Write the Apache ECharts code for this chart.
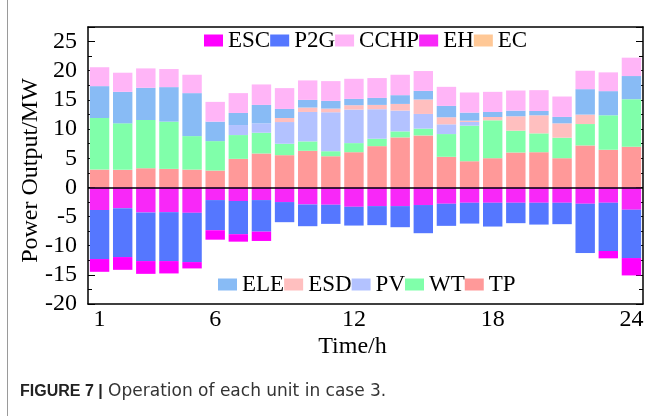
<!DOCTYPE html>
<html>
<head>
<meta charset="utf-8">
<title>Operation of each unit in case 3</title>
<script src="https://cdn.jsdelivr.net/npm/echarts@6/dist/echarts.min.js"></script>
<style>
  html, body { margin: 0; padding: 0; background: #fff; }
  #main { width: 651px; height: 416px; }
</style>
</head>
<body>
<div id="main"></div>
<script>
// hours on the x axis
var hours = ['1', '2', '3', '4', '5', '6', '7', '8', '9', '10', '11', '12',
             '13', '14', '15', '16', '17', '18', '19', '20', '21', '22', '23', '24'];
var tickHours = [1, 3, 6, 9, 12, 15, 18, 21, 24];
var labelHours = [1, 6, 12, 18, 24];

// supply side (MW)
var TP   = [3.05, 3.0, 3.28, 3.17, 3.05, 2.88, 4.89, 5.81, 5.52, 6.27, 5.34, 6.03,
            7.07, 8.57, 8.91, 5.24, 4.48, 5.0, 5.98, 6.03, 5.0, 7.19, 6.45, 6.97];
var WT   = [8.85, 7.98, 8.27, 8.1, 5.74, 5.05, 4.08, 3.56, 1.96, 1.61, 0.86, 1.56,
            1.27, 1.03, 1.16, 3.9, 6.1, 6.5, 3.74, 3.23, 3.52, 3.67, 5.91, 8.15];
var PV   = [0, 0, 0, 0, 0, 0, 1.72, 1.61, 3.72, 5.05, 6.68, 5.75,
            5.06, 3.57, 2.52, 1.67, 0.64, 0, 0, 0, 0, 0, 0, 0];
var ESD  = [0, 0, 0, 0, 0, 0, 0, 0, 0.7, 0.76, 0.63, 0.75,
            0.74, 1.14, 2.48, 1.21, 0.22, 0.57, 2.47, 3.1, 2.46, 1.62, 0, 0];
var ELE  = [5.46, 5.4, 5.52, 5.92, 7.37, 3.34, 2.07, 3.16, 1.55, 1.31, 1.32, 1.08,
            1.2, 1.5, 1.48, 1.95, 1.38, 0.86, 0.97, 0.74, 1.1, 4.36, 4.14, 3.97];
var CCHP = [3.24, 3.28, 3.33, 3.1, 3.15, 3.39, 3.4, 3.51, 3.57, 3.34, 3.39, 3.45,
            3.4, 3.5, 3.4, 3.27, 3.45, 3.45, 3.45, 3.57, 3.5, 3.16, 3.22, 3.15];
var EC   = [0, 0, 0, 0, 0, 0, 0, 0, 0, 0, 0, 0,
            0, 0, 0, 0, 0, 0, 0, 0, 0, 0, 0, 0];
// consumption side (MW)
var EH   = [-3.9, -3.56, -4.31, -4.25, -4.36, -2.18, -2.34, -2.18, -2.52, -2.93, -2.98, -3.33,
            -3.21, -3.21, -3.03, -2.81, -2.64, -2.64, -2.64, -2.64, -2.64, -2.81, -2.64, -3.84];
var P2G  = [-8.39, -8.39, -8.33, -8.39, -8.45, -5.17, -5.69, -5.41, -3.45, -3.73, -3.28, -3.22,
            -3.27, -3.62, -4.83, -3.79, -3.57, -4.08, -3.5, -3.74, -3.67, -8.45, -8.27, -8.28];
var ESC  = [-2.19, -2.19, -2.19, -2.12, -1.09, -1.62, -1.28, -1.6, 0, 0, 0, 0,
            0, 0, 0, 0, 0, 0, 0, 0, 0, 0, -1.26, -2.98];

var serif = '"Liberation Serif", "Times New Roman", serif';

function bar(name, data, color) {
    return {
        name: name,
        type: 'bar',
        stack: 'total',
        barWidth: '84%',
        data: data,
        itemStyle: { color: color },
        emphasis: { disabled: true }
    };
}

var series = [
    bar('TP', TP, '#FF9999'),
    bar('WT', WT, '#80FFAA'),
    bar('PV', PV, '#B3C2FF'),
    bar('ESD', ESD, '#FFBFBF'),
    bar('ELE', ELE, '#88BBF5'),
    bar('CCHP', CCHP, '#FFB5F7'),
    bar('EC', EC, '#FFC896'),
    bar('EH', EH, '#F828F8'),
    bar('P2G', P2G, '#5577FF'),
    bar('ESC', ESC, '#FF00FF')
];
// zero line across the plot
series[0].markLine = {
    silent: true,
    symbol: 'none',
    label: { show: false },
    lineStyle: { color: '#000', width: 1.5, type: 'solid' },
    data: [{ yAxis: 0 }]
};

// extra y axes only carry the longer ticks at every 5 MW
function tickAxis(pos) {
    return {
        type: 'value',
        min: -20, max: 27.5, interval: 5,
        position: pos,
        axisLine: { show: false, onZero: false },
        axisTick: { show: true, inside: true, length: 7, lineStyle: { color: '#000' } },
        axisLabel: { show: false },
        splitLine: { show: false }
    };
}

var legendText = { fontFamily: serif, fontSize: 23, color: '#000' };
var sans = '"Liberation Sans", Arial, sans-serif';

var option = {
    animation: false,
    backgroundColor: '#fff',
    grid: { left: 88, right: 8, top: 27, bottom: 112 },
    legend: [{
        data: ['ESC', 'P2G', 'CCHP', 'EH', 'EC'],
        left: 204, top: 29, padding: 0,
        itemWidth: 19, itemHeight: 12, itemGap: 0,
        icon: 'rect', selectedMode: false,
        textStyle: legendText
    }, {
        data: ['ELE', 'ESD', 'PV', 'WT', 'TP'],
        left: 218, top: 273, padding: 0,
        itemWidth: 19, itemHeight: 12, itemGap: 0,
        icon: 'rect', selectedMode: false,
        textStyle: legendText
    }],
    xAxis: [{
        type: 'category',
        data: hours,
        position: 'bottom',
        name: 'Time/h',
        nameLocation: 'middle',
        nameGap: 31,
        nameMoveOverlap: false,
        nameTextStyle: { fontFamily: serif, fontSize: 24, color: '#000', padding: [0, 26, 0, 0] },
        axisLine: { onZero: false, lineStyle: { color: '#000', width: 1.5 } },
        axisTick: {
            alignWithLabel: true, inside: true, length: 5,
            interval: function (i, v) { return tickHours.indexOf(+v) >= 0; },
            lineStyle: { color: '#000' }
        },
        axisLabel: {
            interval: function (i, v) { return labelHours.indexOf(+v) >= 0; },
            margin: 4, fontFamily: serif, fontSize: 24, color: '#000'
        },
        splitLine: { show: false }
    }, {
        type: 'category',
        data: hours,
        position: 'top',
        axisLine: { onZero: false, lineStyle: { color: '#000', width: 1.5 } },
        axisTick: { show: false },
        axisLabel: { show: false },
        splitLine: { show: false }
    }],
    yAxis: [{
        type: 'value',
        min: -20, max: 27.5, interval: 2.5,
        position: 'left',
        name: 'Power Output/MW',
        nameLocation: 'middle',
        nameGap: 45,
        nameMoveOverlap: false,
        nameTextStyle: { fontFamily: serif, fontSize: 24, color: '#000', padding: [0, 10, 0, 0] },
        axisLine: { show: true, onZero: false, lineStyle: { color: '#000', width: 1.5 } },
        axisTick: { show: true, inside: true, length: 4, lineStyle: { color: '#000' } },
        axisLabel: {
            margin: 11, fontFamily: serif, fontSize: 24, color: '#000', padding: [4, 0, 0, 0],
            formatter: function (v) { return (v % 5 === 0 && v <= 25) ? String(v) : ''; }
        },
        splitLine: { show: false }
    }, {
        type: 'value',
        min: -20, max: 27.5, interval: 2.5,
        position: 'right',
        axisLine: { show: true, onZero: false, lineStyle: { color: '#000', width: 1.5 } },
        axisTick: { show: true, inside: true, length: 4, lineStyle: { color: '#000' } },
        axisLabel: { show: false },
        splitLine: { show: false }
    }, tickAxis('left'), tickAxis('right')],
    graphic: [{
        type: 'line',
        shape: { x1: 7.5, y1: 0, x2: 7.5, y2: 416 },
        style: { stroke: '#9a9a9a', lineWidth: 1 }
    }, {
        type: 'text',
        left: 20, top: 383,
        style: {
            text: '{b|FIGURE 7 |}{r| Operation of each unit in case 3.}',
            rich: {
                b: { fontFamily: sans, fontSize: 16, fontWeight: 'bold', fill: '#222' },
                r: { fontFamily: '"DejaVu Sans", sans-serif', fontSize: 17, fill: '#333' }
            },
            fontFamily: sans,
            fontSize: 16,
            fill: '#333'
        }
    }],
    series: series
};

var myChart = echarts.init(document.getElementById('main'));
myChart.setOption(option);
</script>
</body>
</html>
